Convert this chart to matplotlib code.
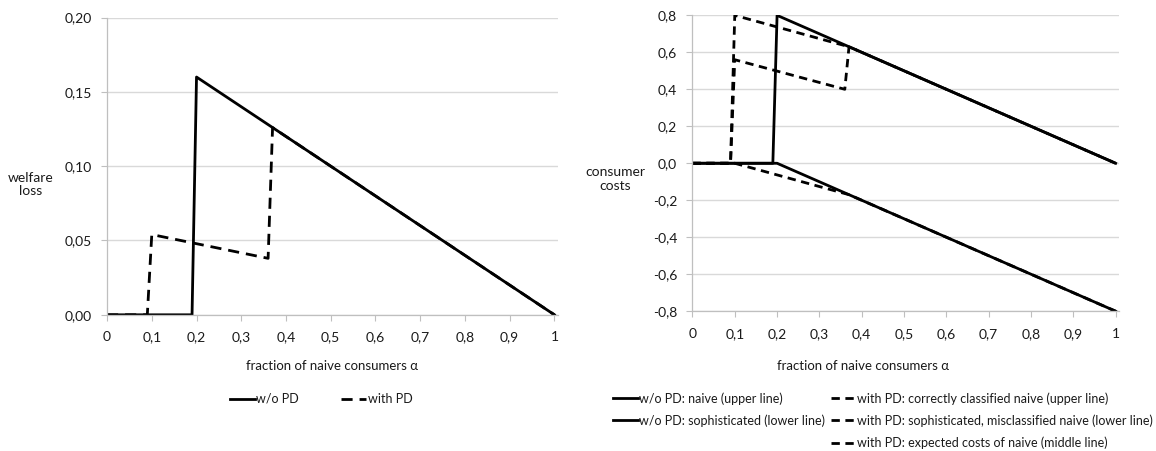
import matplotlib
matplotlib.use("Agg")
import matplotlib.pyplot as plt
from matplotlib.lines import Line2D

plt.rcParams['font.family'] = ['Lato', 'DejaVu Sans']
plt.rcParams['font.size'] = 10

# left chart: welfare loss
alpha_wo = [0, 0.19, 0.20, 1.0]
loss_wo = [0, 0, 0.16, 0]
alpha_pd = [0, 0.09, 0.10, 0.36, 0.37, 1.0]
loss_pd = [0, 0, 0.054, 0.038, 0.126, 0]

# right chart: consumer costs
naive_a = [0, 0.19, 0.20, 1.0]
naive_c = [0, 0, 0.8, 0]
soph_a = [0, 0.20, 1.0]
soph_c = [0, 0, -0.8]
corr_a = [0, 0.09, 0.10, 0.37, 1.0]
corr_c = [0, 0, 0.8, 0.63, 0]
miscl_a = [0, 0.10, 0.37, 1.0]
miscl_c = [0, 0, -0.17, -0.8]
exp_a = [0, 0.09, 0.10, 0.36, 0.37, 1.0]
exp_c = [0, 0, 0.56, 0.40, 0.63, 0]

xticks = [0, 0.1, 0.2, 0.3, 0.4, 0.5, 0.6, 0.7, 0.8, 0.9, 1.0]
xlabels = ['0', '0,1', '0,2', '0,3', '0,4', '0,5', '0,6', '0,7', '0,8', '0,9', '1']
yticks_l = [0, 0.05, 0.10, 0.15, 0.20]
ylabels_l = ['0,00', '0,05', '0,10', '0,15', '0,20']
yticks_r = [-0.8, -0.6, -0.4, -0.2, 0, 0.2, 0.4, 0.6, 0.8]
ylabels_r = ['-0,8', '-0,6', '-0,4', '-0,2', '0,0', '0,2', '0,4', '0,6', '0,8']

txt = '#1a1a1a'
grid = '#d9d9d9'
spine = '#bfbfbf'
lw = 2.0

fig = plt.figure(figsize=(11.56, 4.51), dpi=100)
ax1 = fig.add_axes([0.0926, 0.302, 0.3901, 0.659])
ax2 = fig.add_axes([0.599, 0.310, 0.369, 0.656])


def style(ax, yt, yl, ylim):
    ax.set_xlim(0, 1.008)
    ax.set_ylim(*ylim)
    ax.set_xticks(xticks)
    ax.set_xticklabels(xlabels)
    ax.set_yticks(yt)
    ax.set_yticklabels(yl)
    ax.yaxis.grid(True, color=grid, lw=1)
    ax.set_axisbelow(True)
    for s in ['top', 'right']:
        ax.spines[s].set_visible(False)
    for s in ['left', 'bottom']:
        ax.spines[s].set_color(spine)
        ax.spines[s].set_linewidth(0.9)
    ax.tick_params(axis='x', length=4, color=spine, pad=8)
    ax.tick_params(axis='y', length=4, color=spine, pad=7)
    ax.tick_params(axis='both', labelcolor=txt, labelsize=10)


style(ax1, yticks_l, ylabels_l, (0, 0.2))
ax1.plot(alpha_wo, loss_wo, color='black', lw=lw, label='w/o PD')
ax1.plot(alpha_pd, loss_pd, color='black', lw=lw, ls=(0, (4, 2.5)), label='with PD')

style(ax2, yticks_r, ylabels_r, (-0.8, 0.8))
h1, = ax2.plot(naive_a, naive_c, color='black', lw=lw)
h2, = ax2.plot(soph_a, soph_c, color='black', lw=lw)
d = (0, (3, 2))
h3, = ax2.plot(corr_a, corr_c, color='black', lw=lw, ls=d)
h4, = ax2.plot(miscl_a, miscl_c, color='black', lw=lw, ls=d)
h5, = ax2.plot(exp_a, exp_c, color='black', lw=lw, ls=d)
blank = Line2D([], [], color='none')

fig.text(0.0265, 0.591, 'welfare\nloss', ha='center', va='center', color=txt, linespacing=1.15)
fig.text(0.532, 0.603, 'consumer\ncosts', ha='center', va='center', color=txt, linespacing=1.25)
fig.text(0.2876, 0.188, 'fraction of naive consumers α', ha='center', va='center',
         color=txt, fontsize=9.5)
fig.text(0.7467, 0.188, 'fraction of naive consumers α', ha='center', va='center',
         color=txt, fontsize=9.5)

leg1 = fig.legend(handles=ax1.get_lines(), labels=['w/o PD', 'with PD'], ncol=2,
                  loc='center', bbox_to_anchor=(0.2777, 0.1153), frameon=False,
                  fontsize=9, handlelength=2.0, handletextpad=0.1, columnspacing=3.4)
leg2 = fig.legend(handles=[h1, h2, blank, h3, h4, h5],
                  labels=['w/o PD: naive (upper line)', 'w/o PD: sophisticated (lower line)', '',
                          'with PD: correctly classified naive (upper line)',
                          'with PD: sophisticated, misclassified naive (lower line)',
                          'with PD: expected costs of naive (middle line)'],
                  ncol=2, loc='upper left', bbox_to_anchor=(0.5303, 0.1308), frameon=False,
                  fontsize=9, borderpad=0, borderaxespad=0,
                  handlelength=2.0, handletextpad=0.1, columnspacing=0.45, labelspacing=0.78)
for lg in (leg1, leg2):
    for t in lg.get_texts():
        t.set_color(txt)

fig.savefig('out.png', dpi=100)
